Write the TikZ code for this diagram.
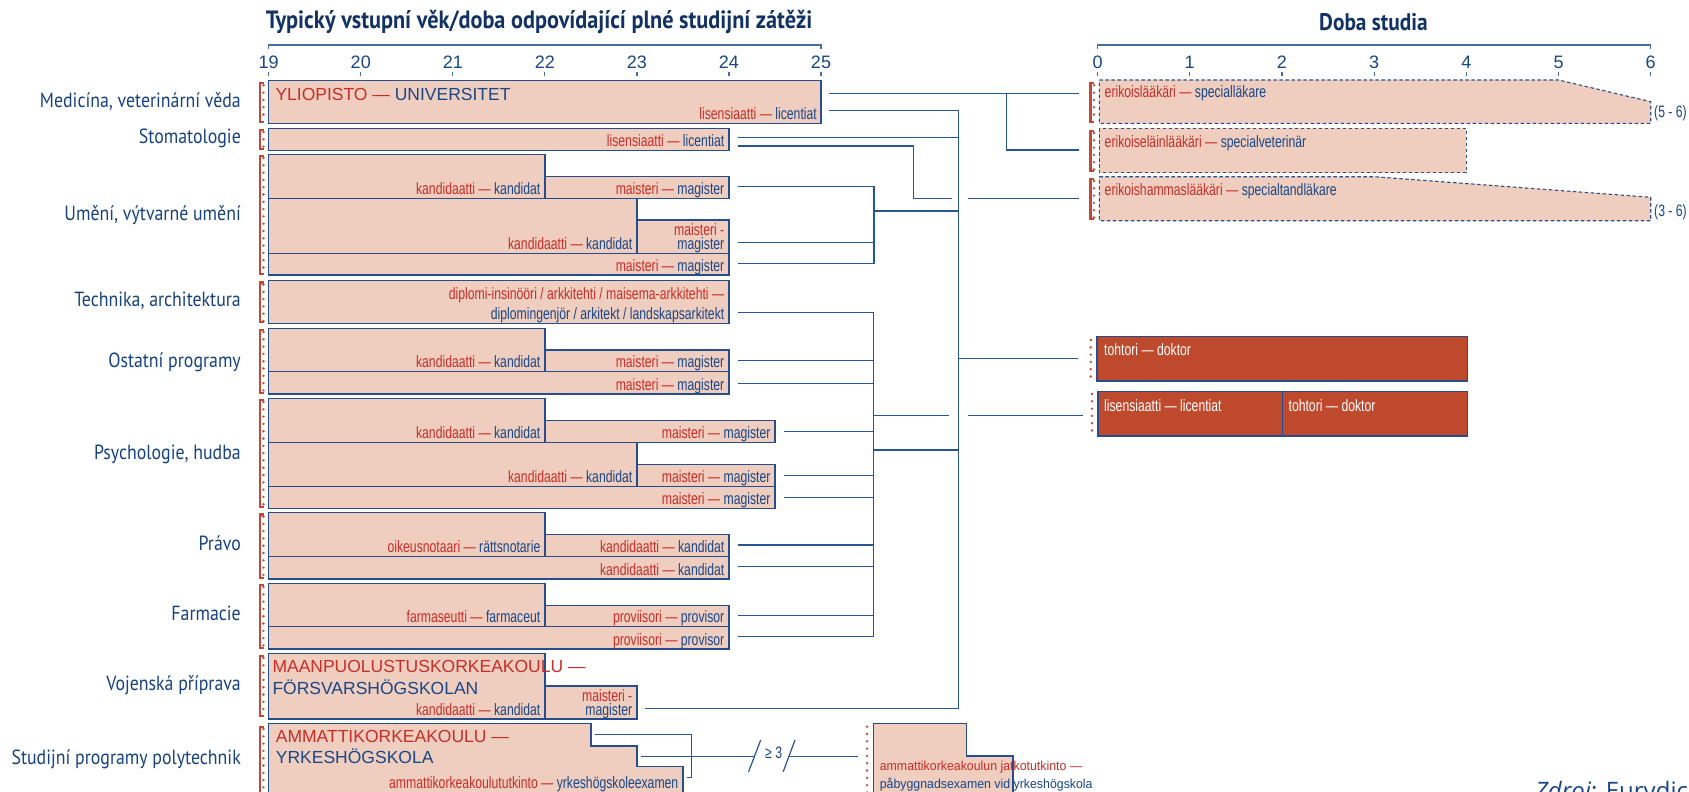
\documentclass[tikz,border=0pt]{standalone}
\usepackage{fontspec}
\setmainfont{Liberation Sans}
\newfontfamily\smallf[FakeStretch=0.74]{Liberation Sans}
\newfontfamily\bigf{Liberation Sans}
\newfontfamily\contf[FakeStretch=0.95]{Liberation Sans}
\newfontfamily\labf[FakeStretch=0.87]{PT Sans}
\newfontfamily\titf[FakeStretch=0.89]{PT Sans}
\newfontfamily\srcf{Open Sans}
\definecolor{boxfill}{RGB}{239,206,191}
\definecolor{boxline}{RGB}{38,78,140}
\definecolor{tblue}{RGB}{25,70,135}
\definecolor{tred}{RGB}{200,45,40}
\definecolor{dred}{RGB}{190,73,44}
\definecolor{labblue}{RGB}{22,66,128}
\definecolor{titblue}{RGB}{18,50,100}
\definecolor{connc}{RGB}{40,85,150}
\definecolor{axisc}{RGB}{70,110,165}
\definecolor{bred}{RGB}{200,70,50}
\newcommand\rt[1]{\textcolor{tred}{#1}}
\newcommand\bx[5]{\node[box, anchor=north west, minimum width={(#4-#2)*1pt}, minimum height={(#5-#3)*1pt}] (#1) at (#2,#3) {};}
\newcommand\redbrk[3]{\draw[brk] (#1+3.5,#2) -- (#1,#2) -- (#1,#3) -- (#1+3.5,#3); \draw[dots] (#1+3.5,#2+2) -- (#1+3.5,#3);}
\tikzset{
  box/.style={draw=boxline, fill=boxfill, line width=1.2pt, rectangle, inner sep=0pt, outer sep=0pt},
  dbox/.style={draw=boxline, fill=boxfill, line width=1.1pt, dash pattern=on 3.5pt off 2.5pt},
  rbox/.style={draw=boxline, fill=dred, line width=1.2pt},
  conn/.style={draw=connc, line width=1.2pt},
  sm/.style={font=\smallf\fontsize{16.5}{18}\selectfont, text=tblue, inner sep=0pt},
  wt/.style={font=\smallf\fontsize{16.5}{18}\selectfont, text=white, inner sep=0pt, anchor=base west},
  bg/.style={font=\bigf\fontsize{17.5}{20}\selectfont, text=tblue, inner sep=0pt, anchor=base west},
  lab/.style={font=\labf\fontsize{20.5}{22}\selectfont, text=labblue, inner sep=0pt, anchor=base east},
  num/.style={font=\bigf\fontsize{18}{20}\selectfont, text=tblue, inner sep=0pt},
  tit/.style={font=\titf\bfseries\fontsize{24}{26}\selectfont, text=titblue, inner sep=0pt},
  titL/.style={font=\titf\bfseries\fontsize{25}{27}\selectfont, text=titblue, inner sep=0pt},
  dots/.style={draw=bred, line width=2.6pt, line cap=round, dash pattern=on 0pt off 7.3pt},
  brk/.style={draw=bred, line width=2.3pt},
  axisl/.style={draw=axisc, line width=1.2pt}
}
\begin{document}
\begin{tikzpicture}[x=1pt,y=-1pt]
\useasboundingbox (0,0) rectangle (1689,792);
\clip (0,0) rectangle (1689,792);
\fill[white] (0,0) rectangle (1689,792);

% titles
\node[titL] (tl) at (539,21.7) {Typický vstupní věk/doba odpovídající plné studijní zátěži};
\node[tit] (tr) at (1373.5,21.7) {Doba studia};

% left axis
\draw[axisl] (268.7,49) -- (268.7,45) -- (821,45) -- (821,49);
\foreach \i in {0,...,6}{
  \pgfmathtruncatemacro\yr{19+\i}
  \node[num] (la\i) at (268.7+\i*92.05,62.7) {\yr};
  \draw[axisl] (268.7+\i*92.05,72) -- (268.7+\i*92.05,76);
}
% right axis
\draw[axisl] (1097.5,49) -- (1097.5,45) -- (1650.7,45) -- (1650.7,49);
\foreach \i in {0,...,6}{
  \node[num] (ra\i) at (1097.5+\i*92.2,62.7) {\i};
  \draw[axisl] (1097.5+\i*92.2,72) -- (1097.5+\i*92.2,76);
}

% row labels
\node[lab] (l1) at (241,107) {Medicína, veterinární věda};
\node[lab] (l2) at (241,143.5) {Stomatologie};
\node[lab] (l3) at (241,220) {Umění, výtvarné umění};
\node[lab] (l4) at (241,306.5) {Technika, architektura};
\node[lab] (l5) at (241,367) {Ostatní programy};
\node[lab] (l6) at (241,459) {Psychologie, hudba};
\node[lab] (l7) at (241,550) {Právo};
\node[lab] (l8) at (241,620) {Farmacie};
\node[lab] (l9) at (241,690) {Vojenská příprava};
\node[lab] (l10) at (241,764.5) {Studijní programy polytechnik};

% left brackets
\redbrk{260}{83.3}{121.7}
\redbrk{260}{130}{149}
\redbrk{260}{156}{274}
\redbrk{260}{282.5}{322}
\redbrk{260}{330}{393}
\redbrk{260}{400}{507}
\redbrk{260}{514.5}{578}
\redbrk{260}{585}{648}
\redbrk{260}{656}{716}
\redbrk{260}{727}{800}

% Medicina
\bx{med}{268.7}{80.7}{821}{123.3}
\node[bg] (medt) at (275.3,100.3) {\rt{YLIOPISTO —} UNIVERSITET};
\node[sm, anchor=base east] (medl) at (817,119.3) {\rt{lisensiaatti —} licentiat};
% Stomatologie
\bx{sto}{268.7}{128.3}{728.9}{150.3}
\node[sm, anchor=base east] (stol) at (724.5,146.8) {\rt{lisensiaatti —} licentiat};
% Umeni
\bx{umA}{268.7}{154.3}{544.9}{198.3}
\bx{umB}{544.9}{176.7}{728.9}{198.3}
\bx{umC}{268.7}{198.3}{636.9}{253.3}
\bx{umD}{636.9}{220}{728.9}{253.3}
\bx{umE}{268.7}{253.3}{728.9}{275}
\node[sm, anchor=base east] (umAt) at (540.5,194.3) {\rt{kandidaatti —} kandidat};
\node[sm, anchor=base east] (umBt) at (724.5,194.3) {\rt{maisteri —} magister};
\node[sm, anchor=base east] (umCt) at (632.5,249.3) {\rt{kandidaatti —} kandidat};
\node[sm, anchor=base east] (umDt1) at (724.5,235.5) {\rt{maisteri -}};
\node[sm, anchor=base east] (umDt2) at (724.5,249.3) {magister};
\node[sm, anchor=base east] (umEt) at (724.5,271) {\rt{maisteri —} magister};
% Technika
\bx{tec}{268.7}{280.7}{728.9}{323.3}
\node[sm, anchor=base east] (tect1) at (724.5,299.5) {\rt{diplomi-insinööri / arkkitehti / maisema-arkkitehti —}};
\node[sm, anchor=base east] (tect2) at (724.5,319.3) {diplomingenjör / arkitekt / landskapsarkitekt};
% Ostatni
\bx{osA}{268.7}{328.3}{544.9}{371.7}
\bx{osB}{544.9}{350}{728.9}{371.7}
\bx{osC}{268.7}{371.7}{728.9}{394}
\node[sm, anchor=base east] (osAt) at (540.5,367.7) {\rt{kandidaatti —} kandidat};
\node[sm, anchor=base east] (osBt) at (724.5,367.7) {\rt{maisteri —} magister};
\node[sm, anchor=base east] (osCt) at (724.5,390) {\rt{maisteri —} magister};
% Psychologie
\bx{psA}{268.7}{398.3}{544.9}{442.3}
\bx{psB}{544.9}{420.7}{775}{442.3}
\bx{psC}{268.7}{442.3}{636.9}{486.7}
\bx{psD}{636.9}{464.3}{775}{486.7}
\bx{psE}{268.7}{486.7}{775}{508.3}
\node[sm, anchor=base east] (psAt) at (540.5,438.3) {\rt{kandidaatti —} kandidat};
\node[sm, anchor=base east] (psBt) at (770.6,438.3) {\rt{maisteri —} magister};
\node[sm, anchor=base east] (psCt) at (632.5,482.7) {\rt{kandidaatti —} kandidat};
\node[sm, anchor=base east] (psDt) at (770.6,482.7) {\rt{maisteri —} magister};
\node[sm, anchor=base east] (psEt) at (770.6,504.3) {\rt{maisteri —} magister};
% Pravo
\bx{prA}{268.7}{512.7}{544.9}{556.7}
\bx{prB}{544.9}{534.3}{728.9}{556.7}
\bx{prC}{268.7}{556.7}{728.9}{579}
\node[sm, anchor=base east] (prAt) at (540.5,552.7) {\rt{oikeusnotaari —} rättsnotarie};
\node[sm, anchor=base east] (prBt) at (724.5,552.7) {\rt{kandidaatti —} kandidat};
\node[sm, anchor=base east] (prCt) at (724.5,575) {\rt{kandidaatti —} kandidat};
% Farmacie
\bx{faA}{268.7}{583.3}{544.9}{626.7}
\bx{faB}{544.9}{605.3}{728.9}{626.7}
\bx{faC}{268.7}{626.7}{728.9}{649}
\node[sm, anchor=base east] (faAt) at (540.5,622.7) {\rt{farmaseutti —} farmaceut};
\node[sm, anchor=base east] (faBt) at (724.5,622.7) {\rt{proviisori —} provisor};
\node[sm, anchor=base east] (faCt) at (724.5,645) {\rt{proviisori —} provisor};
% Vojenska
\bx{voA}{268.7}{653.3}{544.9}{719}
\bx{voB}{544.9}{686}{636.9}{719}
\node[bg] (voT1) at (272.3,672.7) {\rt{MAANPUOLUSTUSKORKEAKOULU —}};
\node[bg] (voT2) at (272.3,694.3) {FÖRSVARSHÖGSKOLAN};
\node[sm, anchor=base east] (voAt) at (540.5,715) {\rt{kandidaatti —} kandidat};
\node[sm, anchor=base east] (voBt1) at (632.5,701) {\rt{maisteri -}};
\node[sm, anchor=base east] (voBt2) at (632.5,715) {magister};
% Polytechnic
\draw[box] (268.7,723.3) -- (590.9,723.3) -- (590.9,746) -- (636.9,746) -- (636.9,766.7) -- (682.9,766.7) -- (682.9,805) -- (268.7,805) -- cycle;
\node[bg] (poT1) at (275.7,742.3) {\rt{AMMATTIKORKEAKOULU —}};
\node[bg] (poT2) at (275.7,763.3) {YRKESHÖGSKOLA};
\node[sm, anchor=base east] (poT3) at (678.5,788) {\rt{ammattikorkeakoulututkinto —} yrkeshögskoleexamen};
% Continuing education
\draw[dots] (867,726.7) -- (867,800);
\draw[box] (873.6,723.3) -- (966.4,723.3) -- (966.4,756) -- (1012.9,756) -- (1012.9,805) -- (873.6,805) -- cycle;
\node[font=\contf\fontsize{13}{15}\selectfont, text=tblue, inner sep=0pt, anchor=base west] (coT1) at (879.6,770.5) {\rt{ammattikorkeakoulun jatkotutkinto —}};
\node[font=\contf\fontsize{13}{15}\selectfont, text=tblue, inner sep=0pt, anchor=base west] (coT2) at (879.6,788.5) {påbyggnadsexamen vid yrkeshögskola};

% right specialist boxes
\redbrk{1090.5}{83.3}{121.7}
\redbrk{1090.5}{131}{171}
\redbrk{1090.5}{179}{219}
\draw[dbox] (1099.3,80) -- (1558.5,80) -- (1650.7,101.7) -- (1650.7,123.3) -- (1099.3,123.3) -- cycle;
\draw[dbox] (1099.3,128.3) rectangle (1466.3,172.7);
\draw[dbox] (1099.3,176.7) -- (1374.1,176.7) -- (1650.7,197.3) -- (1650.7,220.7) -- (1099.3,220.7) -- cycle;
\node[sm, anchor=base west] (er1) at (1104.5,97.5) {\rt{erikoislääkäri —} specialläkare};
\node[sm, anchor=base west] (er2) at (1104.5,147) {\rt{erikoiseläinlääkäri —} specialveterinär};
\node[sm, anchor=base west] (er3) at (1104.5,195) {\rt{erikoishammaslääkäri —} specialtandläkare};
\node[sm, anchor=base west] (r56) at (1654,117.5) {(5 - 6)};
\node[sm, anchor=base west] (r36) at (1654,216) {(3 - 6)};

% doctoral boxes
\draw[dots] (1090.7,340) -- (1090.7,378);
\draw[dots] (1092,394) -- (1092,434);
\draw[rbox] (1097,336.7) rectangle (1467.7,381);
\draw[rbox] (1098,391.7) rectangle (1467.3,436);
\draw[draw=boxline, line width=1.2pt] (1282.3,391.7) -- (1282.3,436);
\node[wt] (dt1) at (1104,355.5) {tohtori — doktor};
\node[wt] (dt2) at (1104,411) {lisensiaatti — licentiat};
\node[wt] (dt3) at (1288.4,411) {tohtori — doktor};

% connectors: coordinates
\coordinate (medU) at (828.5,93.3);
\coordinate (medL) at (828.5,110.7);
\coordinate (stoU) at (738,137.3);
\coordinate (stoL) at (738,146);
\coordinate (jEri) at (1006.5,93.3);
\coordinate (eri1) at (1078.8,93.3);
\coordinate (eri2) at (1078.8,150);
\coordinate (eri3) at (1078.8,198.3);
\coordinate (bigT) at (958.8,110.7);
\coordinate (bigB) at (958.8,708.3);
\coordinate (toh) at (1078,358.3);
\coordinate (lic) at (1083,415.7);

\draw[conn] (medU) -- (eri1);
\draw[conn] (jEri) |- (eri2);
\draw[conn] (medL) -- (bigT) -- (bigB);
\draw[conn] (stoU) -- (958.8,137.3);
\draw[conn] (stoL) -- (913.7,146) -- (913.7,198.3) -- (952,198.3);
\draw[conn] (967.5,198.3) -- (eri3);
% Umeni collector
\draw[conn] (738,186.7) -- (874,186.7) -- (874,263.3) -- (738,263.3);
\draw[conn] (738,242.3) -- (874,242.3);
\draw[conn] (874,211) -- (958.8,211);
% main collector
\draw[conn] (738,312.7) -- (873.7,312.7) -- (873.7,636.7) -- (738,636.7);
\foreach \yy in {360.7,383.3,545,566.7,615.3} \draw[conn] (738,\yy) -- (873.7,\yy);
\foreach \yy in {431.7,475.7,497.7} \draw[conn] (784,\yy) -- (873.7,\yy);
\draw[conn] (873.7,450) -- (958.8,450);
\draw[conn] (873.7,415.7) -- (949,415.7);
\draw[conn] (968.4,415.7) -- (lic);
\draw[conn] (958.8,358.3) -- (toh);
% Vojenska
\draw[conn] (644.6,708.3) -- (bigB);
% polytechnic
\coordinate (poA) at (594.6,734.3);
\coordinate (poB) at (641.4,756.7);
\coordinate (coA) at (858.2,756.7);
\draw[conn] (poA) -- (691.4,734.3) -- (691.4,777.7) -- (687,777.7);
\draw[conn] (poB) -- (754.6,756.7);
\draw[conn] (789,756.7) -- (coA);
\draw[conn] (748.6,771.7) -- (760.7,740);
\draw[conn] (783.2,771.7) -- (795,740);
\node[sm] (ge3) at (773.6,752.7) {≥ 3};

% source
\node[font=\srcf\fontsize{24}{26}\selectfont, text=tblue, inner sep=0pt, anchor=base west] (src) at (1535,799.5) {\textit{Zdroj}: Eurydice};
\end{tikzpicture}
\end{document}
